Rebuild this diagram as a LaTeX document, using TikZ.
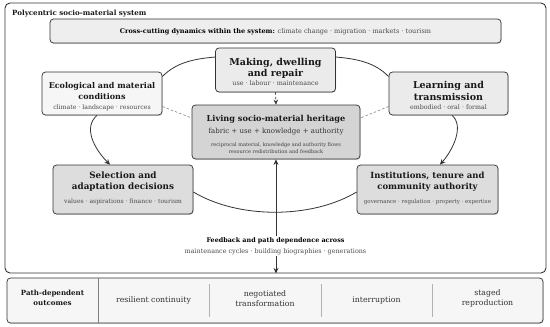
\documentclass[tikz,border=0pt]{standalone}
\usepackage{fontspec}
\setmainfont{DejaVu Serif}
\usetikzlibrary{arrows.meta,shadows}
\definecolor{edge}{HTML}{333333}
\definecolor{subc}{HTML}{4a4a4a}
\definecolor{fcross}{HTML}{eeeeee}
\definecolor{fmake}{HTML}{ebebeb}
\definecolor{feco}{HTML}{f6f6f6}
\definecolor{flive}{HTML}{d4d4d4}
\definecolor{fsel}{HTML}{dddddd}
\definecolor{fout}{HTML}{f6f6f6}
\begin{document}
\begin{tikzpicture}[x=1pt,y=-1pt,
  box/.style={draw=edge, line width=0.75pt, rounded corners=3.5pt, inner sep=0pt,
    drop shadow={shadow xshift=0.7pt, shadow yshift=-0.8pt, opacity=0.35}},
  ttl/.style 2 args={font=\bfseries\fontsize{#1}{#2}\selectfont, align=center, text=black!90, inner sep=0pt},
  subt/.style 2 args={font=\fontsize{#1}{#2}\selectfont, align=center, text=subc, inner sep=0pt},
  link/.style={draw=edge, line width=0.8pt},
  dlink/.style={draw=gray, line width=0.6pt, dash pattern=on 2.5pt off 2pt},
  tip/.style={-{Stealth[length=5.5pt,width=5pt]}},
  divl/.style={draw=gray!60, line width=0.6pt}]
\useasboundingbox (0,0) rectangle (550,327);
% outer frame
\node[draw=edge, line width=0.9pt, rounded corners=5pt, minimum width=541pt, minimum height=270pt, inner sep=0pt] (frame) at (275.5,138) {};
\node[ttl={7.1}{8.5}, anchor=west] (ftitle) at (12,14) {Polycentric socio-material system};
% cross-cutting
\node[box, fill=fcross, minimum width=451pt, minimum height=24pt] (cross) at (275.5,31) {};
\node[inner sep=0pt, font=\fontsize{6.5}{8}\selectfont] (crosst) at (275.5,31.5) {\textbf{Cross-cutting dynamics within the system:} {\color{subc}climate change · migration · markets · tourism}};
% boxes
\node[box, fill=fmake, minimum width=120pt, minimum height=44pt] (make) at (275.5,70) {};
\node[box, fill=feco, minimum width=120pt, minimum height=43pt] (eco) at (102,93.5) {};
\node[box, fill=fmake, minimum width=119pt, minimum height=43pt] (learn) at (448.5,93.5) {};
\node[box, fill=flive, minimum width=168pt, minimum height=54pt] (live) at (276,132) {};
\node[box, fill=fsel, minimum width=140pt, minimum height=49pt] (sel) at (123,189.5) {};
\node[box, fill=fsel, minimum width=141pt, minimum height=49pt] (inst) at (427.5,189.5) {};
% texts
\node[ttl={9.5}{11}] (maket) at (275.5,68) {Making, dwelling\\and repair};
\node[subt={6.4}{7.5}] (makes) at (275.5,83) {use · labour · maintenance};
\node[ttl={8}{11.5}] (ecot) at (102,91) {Ecological and material\\conditions};
\node[subt={6.2}{7.5}] (ecos) at (102,108) {climate · landscape · resources};
\node[ttl={9.5}{11.5}] (learnt) at (448.5,91) {Learning and\\transmission};
\node[subt={6.3}{7.5}] (learns) at (448.5,107) {embodied · oral · formal};
\node[ttl={8.2}{10}] (livet) at (276,119) {Living socio-material heritage};
\node[subt={7}{8.5}, text=black!80] (lives) at (276,132) {fabric + use + knowledge + authority};
\node[subt={5}{7}, text=black!75] (livess) at (276,148.5) {reciprocal material, knowledge and authority flows\\resource redistribution and feedback};
\node[ttl={8.8}{11}] (selt) at (123,181.5) {Selection and\\adaptation decisions};
\node[subt={6.1}{7.5}] (sels) at (123,202) {values · aspirations · finance · tourism};
\node[ttl={8.5}{11}] (instt) at (427.5,181.5) {Institutions, tenure and\\community authority};
\node[subt={5.5}{7}] (insts) at (427.5,202) {governance · regulation · property · expertise};
% arcs
\draw[link] ([yshift=17pt]eco.east) .. controls +(14,-14) and +(-22,2) .. ([yshift=13pt]make.west);
\draw[link] ([yshift=13pt]make.east) .. controls +(22,2) and +(-14,-14) .. ([yshift=17pt]learn.west);
\draw[link,tip] ([xshift=-5pt]eco.south) .. controls +(-14,12) and +(-16,-16) .. ([xshift=-13pt]sel.north);
\draw[link,tip] ([xshift=3.5pt]learn.south) .. controls +(12,10) and +(14,-16) .. ([xshift=12.5pt]inst.north);
\draw[link] ([yshift=-2.5pt]sel.east) .. controls +(45,27) and +(-45,27) .. ([yshift=-2.5pt]inst.west);
% dashed
\draw[dlink] ([yshift=-13pt]eco.east) -- ([yshift=14pt]live.west);
\draw[dlink] ([yshift=-13pt]learn.west) -- ([yshift=14pt]live.east);
\draw[dlink, -{Stealth[length=5pt,width=4.5pt]}, edge] (make.south) -- (live.north);
% vertical feedback
\draw[link, {Stealth[length=5.5pt,width=5pt]}-{Stealth[length=5.5pt,width=5pt]}] (live.south) -- (live.south |- frame.south);
\node[fill=white, inner sep=1pt, align=center] (fb) at (275.5,246) {{\bfseries\fontsize{6.4}{7.5}\selectfont Feedback and path dependence across}\\[-1pt]{\fontsize{6.4}{7.5}\selectfont\color{subc}maintenance cycles · building biographies · generations}};
% outcomes
\node[box, fill=fout, minimum width=536pt, minimum height=45pt] (outc) at (275,300.5) {};
\draw[draw=gray, line width=0.7pt] (98,278) -- (98,323);
\draw[divl] (209,284) -- (209,317);
\draw[divl] (321,284) -- (321,317);
\draw[divl] (432,284) -- (432,317);
\node[ttl={7.1}{10}] (o0) at (52.5,298) {Path-dependent\\outcomes};
\node[subt={7.8}{9.5}, text=black!80] (o1) at (153.5,300.5) {resilient continuity};
\node[subt={7.8}{9.5}, text=black!80] (o2) at (265,298.5) {negotiated\\transformation};
\node[subt={7.8}{9.5}, text=black!80] (o3) at (376.5,300.5) {interruption};
\node[subt={7.8}{9.5}, text=black!80] (o4) at (487.5,298.5) {staged\\reproduction};
\end{tikzpicture}
\end{document}
